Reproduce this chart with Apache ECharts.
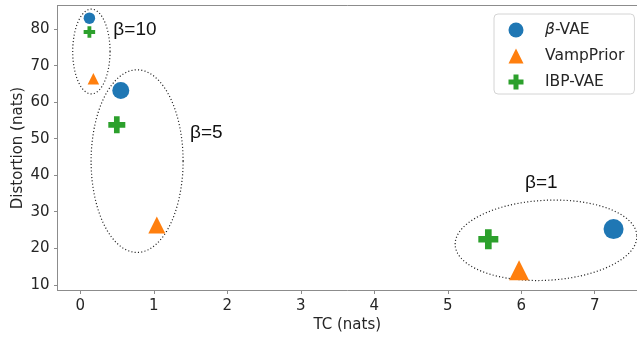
<!DOCTYPE html>
<html><head><meta charset="utf-8">
<script src="https://cdn.jsdelivr.net/npm/echarts@6/dist/echarts.min.js"></script>
<style>html,body{margin:0;padding:0;background:#fff}#c{width:637px;height:337px}</style>
</head><body><div id="c"></div>
<script>
// ---- data ----
const seriesNames = ['β-VAE', 'VampPrior', 'IBP-VAE'];
const betaLevels = [10, 5, 1];
const betaVAE   = [[0.124, 83.0], [0.551, 63.2], [7.256, 25.25]];
const vampPrior = [[0.178, 66.4], [1.041, 26.4], [5.970, 13.97]];
const ibpVAE    = [[0.124, 79.2], [0.497, 53.8], [5.552, 22.46]];
const xTicks = [0, 1, 2, 3, 4, 5, 6, 7];
const yTicks = [10, 20, 30, 40, 50, 60, 70, 80];
const groupLabels = ['β=10', 'β=5', 'β=1'];
const groupLabelAt = [[0.45, 79.7], [1.494, 51.75], [6.052, 37.9]];
// ellipse annotations: centre x, centre y, radius x, radius y (data units), tilt (deg)
const groupEllipses = [[0.151, 73.87, 0.254, 11.6, 0], [0.773, 43.86, 0.626, 25.0, 0], [6.337, 22.18, 1.238, 10.95, 3]];

// ---- styles ----
const colors = ['#1f77b4', '#ff7f0e', '#2ca02c'];
const markerPx = [11.5, 17, 20];
const plusPath = 'path://M1,0H2V1H3V2H2V3H1V2H0V1H1Z';
const symbols = ['circle', 'triangle', plusPath];
const gray = '#8c8c8c';
const txt = '#262626';

const chart = echarts.init(document.getElementById('c'), null, {renderer: 'canvas'});

function mkScatter(i, arr) {
  return {
    type: 'scatter', name: seriesNames[i], z: 5,
    symbol: symbols[i],
    itemStyle: {color: colors[i], opacity: 1},
    data: arr.map((p, k) => ({value: p, symbolSize: markerPx[k]})),
    emphasis: {disabled: true}
  };
}

const X_MIN = -0.31, X_MAX = 7.575, Y_MIN = 8.44, Y_MAX = 86.46;

const axisCommon = {
  type: 'value',
  nameLocation: 'middle',
  nameMoveOverlap: false,
  nameTextStyle: {fontFamily: 'DejaVu Sans', fontSize: 15, color: txt},
  axisLine: {show: true, onZero: false, lineStyle: {color: gray, width: 1}},
  splitLine: {show: false}
};

chart.setOption({
  animation: false,
  grid: {left: 57.5, right: 0, top: 5.5, bottom: 46.5, show: false, outerBoundsMode: 'none', containLabel: false},
  xAxis: [
    Object.assign({}, axisCommon, {
      min: X_MIN, max: X_MAX, name: 'TC (nats)', nameGap: 27,
      axisTick: {show: true, length: 3.5, customValues: xTicks, lineStyle: {color: gray}},
      axisLabel: {customValues: xTicks, margin: 8, fontFamily: 'DejaVu Sans', fontSize: 15, color: txt}
    }),
    {type: 'value', position: 'top', min: X_MIN, max: X_MAX,
      axisLine: {show: true, onZero: false, lineStyle: {color: gray, width: 1}},
      axisTick: {show: false}, axisLabel: {show: false}, splitLine: {show: false}}
  ],
  yAxis: Object.assign({}, axisCommon, {
    min: Y_MIN, max: Y_MAX, name: 'Distortion (nats)', nameGap: 32,
    axisTick: {show: true, length: 3.5, customValues: yTicks, lineStyle: {color: gray}},
    axisLabel: {customValues: yTicks, margin: 8, fontFamily: 'DejaVu Sans', fontSize: 15, color: txt}
  }),
  legend: {
    orient: 'vertical', left: 494, top: 14,
    padding: [8, 10, 4, 14.5], itemWidth: 15, itemHeight: 15, itemGap: 10,
    backgroundColor: '#fff', borderColor: '#d4d4d4', borderWidth: 1, borderRadius: 4,
    textStyle: {fontFamily: 'DejaVu Sans', fontSize: 15.5, color: txt, padding: [0, 0, 0, 16.5],
      rich: {i: {fontStyle: 'italic', fontFamily: 'DejaVu Sans', fontSize: 15.5, color: txt}}},
    formatter: n => n === 'β-VAE' ? '{i|β}-VAE' : n,
    data: seriesNames.map((n, i) => ({name: n, icon: symbols[i]}))
  },
  series: [
    {
      type: 'custom', name: 'ellipses', z: 2, silent: true,
      coordinateSystem: 'cartesian2d',
      encode: {x: 0, y: 1},
      data: groupEllipses,
      renderItem: function (params, api) {
        const c = api.coord([api.value(0), api.value(1)]);
        const s = api.size([api.value(2), api.value(3)], [api.value(0), api.value(1)]);
        const a = -api.value(4) * Math.PI / 180;
        const pts = [];
        for (let k = 0; k < 180; k++) {
          const t = k / 180 * Math.PI * 2;
          const ex = s[0] * Math.cos(t), ey = s[1] * Math.sin(t);
          pts.push([c[0] + ex * Math.cos(a) - ey * Math.sin(a), c[1] + ex * Math.sin(a) + ey * Math.cos(a)]);
        }
        return {type: 'polygon', shape: {points: pts},
          style: {fill: 'none', stroke: '#222', lineWidth: 1.2, lineDash: [1.1, 2.2]}};
      }
    },
    {
      type: 'custom', name: 'labels', z: 3, silent: true,
      coordinateSystem: 'cartesian2d',
      encode: {x: 0, y: 1},
      data: groupLabelAt,
      renderItem: function (params, api) {
        const c = api.coord([api.value(0), api.value(1)]);
        return {type: 'text', x: c[0], y: c[1],
          style: {text: groupLabels[params.dataIndex], align: 'left', verticalAlign: 'middle',
            font: '19px "Liberation Sans"', fill: '#111'}};
      }
    },
    mkScatter(0, betaVAE),
    mkScatter(1, vampPrior),
    mkScatter(2, ibpVAE)
  ]
});
</script>
</body></html>
